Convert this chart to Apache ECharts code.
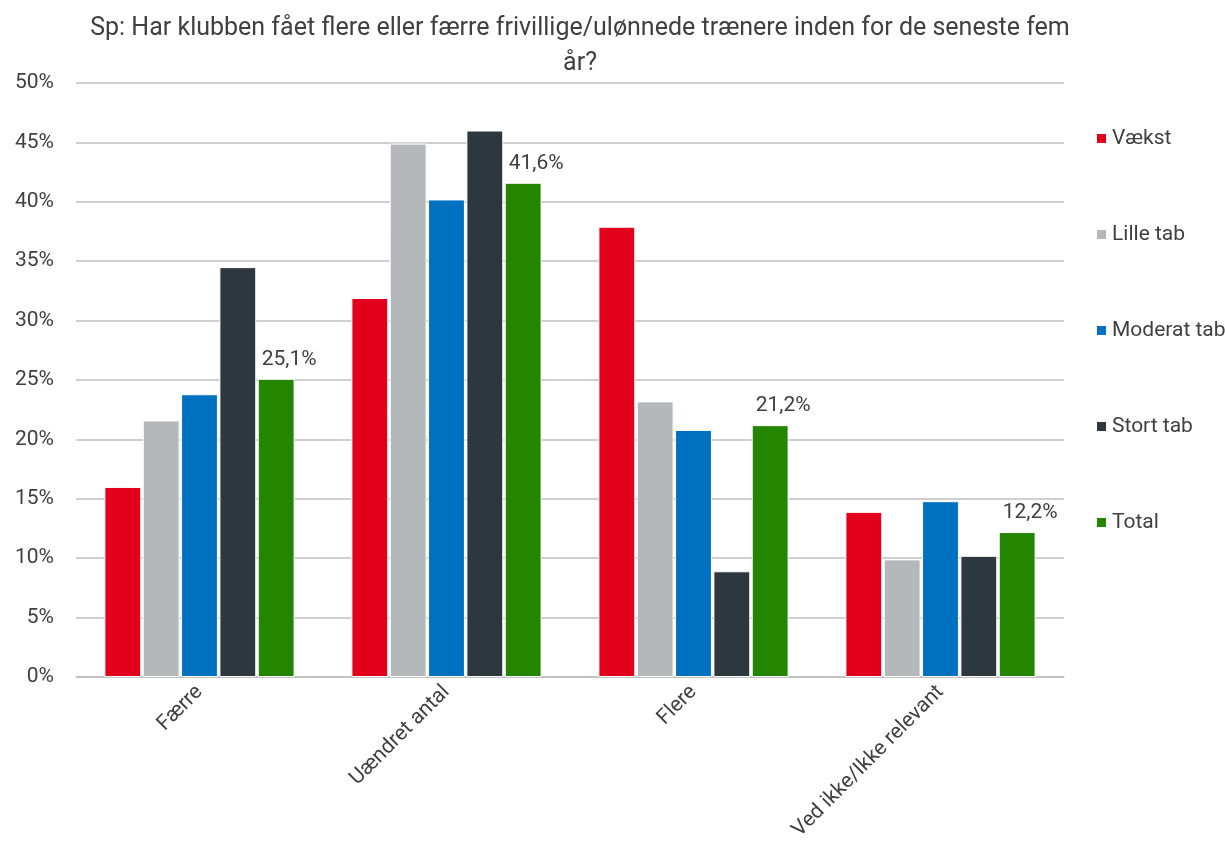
<!DOCTYPE html>
<html>
<head>
<meta charset="utf-8">
<script src="https://cdn.jsdelivr.net/npm/echarts@6/dist/echarts.min.js"></script>
<style>
  html, body { margin: 0; padding: 0; background: #fff; }
  #main { width: 1225px; height: 848px; }
</style>
</head>
<body>
<div id="main"></div>
<script>
// kategorier og serier (procent)
var categories = ['Færre', 'Uændret antal', 'Flere', 'Ved ikke/Ikke relevant'];
var seriesNames = ['Vækst', 'Lille tab', 'Moderat tab', 'Stort tab', 'Total'];
var vaekst = [16.0, 31.9, 37.9, 13.9];
var lilleTab = [21.6, 44.9, 23.2, 9.9];
var moderatTab = [23.8, 40.2, 20.8, 14.8];
var stortTab = [34.5, 46.0, 8.9, 10.2];
var total = [25.1, 41.6, 21.2, 12.2];
var colors = ['#E2001A', '#B5B8BA', '#0070C0', '#2D373E', '#238500'];

var font = 'Roboto, "DejaVu Sans", sans-serif';
var allData = [vaekst, lilleTab, moderatTab, stortTab, total];

var myChart = echarts.init(document.getElementById('main'));

var series = allData.map(function (d, i) {
    var s = {
        name: seriesNames[i],
        type: 'bar',
        data: d,
        barGap: '4%',
        barCategoryGap: '23%',
        itemStyle: { color: colors[i], borderColor: '#fff', borderWidth: 1 }
    };
    if (seriesNames[i] === 'Total') {
        s.label = {
            show: true,
            position: 'top',
            distance: 9,
            offset: [13, 0],
            fontFamily: font,
            fontSize: 21,
            color: '#404040',
            formatter: function (p) { return p.value.toFixed(1).replace('.', ',') + '%'; }
        };
    }
    return s;
});

myChart.setOption({
    color: colors,
    textStyle: { fontFamily: font },
    title: {
        text: 'Sp: Har klubben fået flere eller færre frivillige/ulønnede trænere inden for de seneste fem\når?',
        left: 575,
        top: 6,
        textAlign: 'center',
        textStyle: { fontFamily: font, fontSize: 25, fontWeight: 'normal', color: '#404040', lineHeight: 35 }
    },
    legend: {
        orient: 'vertical',
        left: 1090,
        top: 123,
        itemGap: 75,
        itemWidth: 11,
        itemHeight: 11,
        icon: 'rect',
        textStyle: { fontFamily: font, fontSize: 21, color: '#404040' },
        data: seriesNames
    },
    grid: { left: 76, right: 161, top: 83, bottom: 171 },
    xAxis: {
        type: 'category',
        data: categories,
        axisLine: { lineStyle: { color: '#BFBFBF', width: 1.5 } },
        axisTick: { show: false },
        axisLabel: {
            rotate: 45,
            fontFamily: font,
            fontSize: 21,
            color: '#404040',
            margin: 12
        }
    },
    yAxis: {
        type: 'value',
        min: 0,
        max: 50,
        interval: 5,
        axisLine: { show: false },
        axisTick: { show: false },
        splitLine: { lineStyle: { color: '#BFBFBF', width: 1.5 } },
        axisLabel: {
            fontFamily: font,
            fontSize: 21,
            color: '#404040',
            margin: 22,
            formatter: '{value}%'
        }
    },
    series: series
});
</script>
</body>
</html>
